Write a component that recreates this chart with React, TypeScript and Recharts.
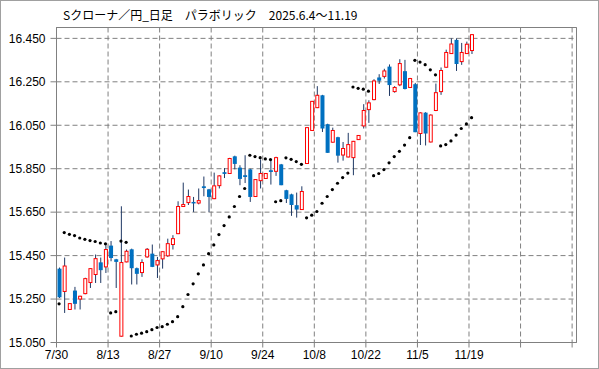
import React from 'react';
import { ComposedChart, Bar, Line, XAxis, YAxis, CartesianGrid, ReferenceArea } from 'recharts';

const title = 'Sクローナ／円_日足　パラボリック　2025.6.4～11.19';

const opens = [
  15.390, 15.285, 15.202, 15.289, 15.250, 15.275, 15.326, 15.363, 15.419, 15.398,
  15.496, 15.433, 15.079, 15.421, 15.479, 15.392, 15.372, 15.444, 15.459, 15.407,
  15.435, 15.449, 15.501, 15.551, 15.676, 15.694, 15.697, 15.692, 15.769, 15.755,
  15.712, 15.772, 15.834, 15.828, 15.907, 15.855, 15.820, 15.847, 15.722, 15.795,
  15.805, 15.843, 15.838, 15.870, 15.751, 15.732, 15.682, 15.662, 15.874, 16.026,
  16.131, 16.188, 16.055, 15.972, 15.995, 15.913, 15.904, 15.901, 15.984, 16.047,
  16.122, 16.168, 16.270, 16.275, 16.320, 16.205, 16.236, 16.299, 16.224, 16.239,
  16.012, 16.108, 15.973, 16.118, 16.205, 16.317, 16.380, 16.443, 16.343, 16.380,
  16.394,
];
const highs = [
  15.395, 15.441, 15.230, 15.306, 15.265, 15.348, 15.392, 15.455, 15.441, 15.498,
  15.517, 15.435, 15.677, 15.478, 15.482, 15.395, 15.433, 15.485, 15.501, 15.444,
  15.470, 15.528, 15.544, 15.700, 15.786, 15.754, 15.720, 15.759, 15.814, 15.757,
  15.832, 15.820, 15.853, 15.900, 15.910, 15.866, 15.912, 15.850, 15.802, 15.893,
  15.830, 15.893, 15.905, 15.872, 15.753, 15.735, 15.740, 15.769, 16.040, 16.162,
  16.230, 16.190, 16.057, 16.039, 15.997, 15.973, 16.015, 15.978, 16.005, 16.147,
  16.165, 16.262, 16.285, 16.310, 16.330, 16.230, 16.354, 16.351, 16.268, 16.245,
  16.110, 16.110, 16.100, 16.242, 16.316, 16.398, 16.450, 16.450, 16.429, 16.435,
  16.470,
];
const lows = [
  15.255, 15.186, 15.200, 15.202, 15.202, 15.272, 15.301, 15.324, 15.324, 15.370,
  15.424, 15.301, 15.077, 15.419, 15.317, 15.317, 15.352, 15.440, 15.397, 15.347,
  15.390, 15.444, 15.478, 15.549, 15.675, 15.683, 15.651, 15.686, 15.723, 15.651,
  15.710, 15.759, 15.807, 15.826, 15.847, 15.774, 15.784, 15.697, 15.720, 15.759,
  15.803, 15.777, 15.817, 15.774, 15.692, 15.633, 15.625, 15.660, 15.872, 16.024,
  16.129, 16.019, 15.923, 15.970, 15.878, 15.887, 15.902, 15.820, 15.982, 16.035,
  16.061, 16.165, 16.240, 16.265, 16.185, 16.200, 16.230, 16.215, 16.222, 16.018,
  15.959, 15.957, 15.971, 16.115, 16.190, 16.315, 16.378, 16.300, 16.328, 16.378,
  16.378,
];
const closes = [
  15.258, 15.402, 15.229, 15.228, 15.263, 15.344, 15.390, 15.436, 15.383, 15.478,
  15.439, 15.421, 15.418, 15.470, 15.392, 15.366, 15.418, 15.479, 15.398, 15.427,
  15.468, 15.505, 15.528, 15.676, 15.685, 15.722, 15.690, 15.703, 15.761, 15.720,
  15.771, 15.817, 15.826, 15.897, 15.872, 15.803, 15.812, 15.720, 15.800, 15.828,
  15.828, 15.835, 15.901, 15.774, 15.711, 15.683, 15.662, 15.745, 16.039, 16.160,
  16.188, 16.035, 15.923, 16.026, 15.910, 15.943, 15.961, 15.976, 16.003, 16.118,
  16.153, 16.254, 16.255, 16.300, 16.235, 16.224, 16.334, 16.217, 16.265, 16.018,
  16.107, 16.012, 16.097, 16.200, 16.302, 16.385, 16.424, 16.332, 16.385, 16.423,
  16.467,
];
const sarValues = [
  15.228, 15.556, 15.548, 15.542, 15.531, 15.525, 15.519, 15.515, 15.508, 15.504,
  15.186, 15.192, 15.517, 15.511, 15.080, 15.088, 15.093, 15.100, 15.109, 15.119,
  15.123, 15.134, 15.146, 15.169, 15.215, 15.271, 15.320, 15.366, 15.407, 15.459,
  15.499, 15.547, 15.588, 15.628, 15.676, 15.722, 15.759, 15.912, 15.906, 15.901,
  15.895, 15.892, 15.698, 15.703, 15.900, 15.893, 15.883, 15.870, 15.624, 15.636,
  15.653, 15.691, 15.722, 15.754, 15.783, 15.809, 15.830, 16.226, 16.220, 16.216,
  16.207, 15.818, 15.828, 15.846, 15.877, 15.906, 15.930, 15.959, 15.993, 16.349,
  16.341, 16.329, 16.305, 16.282, 15.955, 15.961, 15.978, 16.005, 16.035, 16.056,
  16.085,
];

const xTickValues = [0, 10, 20, 30, 40, 50, 60, 70, 80, 90, 100];
const xTickLabels = ['7/30', '8/13', '8/27', '9/10', '9/24', '10/8', '10/22', '11/5', '11/19', '', ''];
const yTicks = [15.05, 15.25, 15.45, 15.65, 15.85, 16.05, 16.25, 16.45];

const data = opens.map((o, i) => ({
  x: i + 0.5,
  open: o,
  high: highs[i],
  low: lows[i],
  close: closes[i],
  range: [lows[i], highs[i]],
  sar: sarValues[i],
}));

const Candle = (props: any) => {
  const { x, y, width, height, payload } = props;
  if (!payload) return null;
  const { open, close, high, low } = payload;
  const top = Math.min(y, y + height);
  const h = Math.abs(height);
  const py = (v: number) => top + ((high - v) / (high - low)) * h;
  const cx = x + width / 2;
  const up = close >= open;
  const yo = py(open);
  const yc = py(close);
  const bt = Math.min(yo, yc);
  const bb = Math.max(yo, yc);
  return (
    <g>
      <line x1={cx} x2={cx} y1={top} y2={top + h} stroke="#1F3864" strokeWidth={1} />
      {up ? (
        <rect x={cx - 1.5} y={bt} width={3} height={Math.max(bb - bt, 1)} fill="#ffffff" stroke="#FF0000" strokeWidth={1} />
      ) : (
        <rect x={cx - 2} y={bt} width={4} height={Math.max(bb - bt, 1)} fill="#0070C0" />
      )}
    </g>
  );
};

const axisFont = { fill: '#000', fontSize: 12, fontFamily: '"Liberation Sans", Arial, sans-serif' };

export default function App() {
  return (
    <div
      style={{
        position: 'absolute',
        left: 0,
        top: 0,
        width: 599,
        height: 369,
        boxSizing: 'border-box',
        border: '1px solid #a0a0a0',
        background: '#fff',
        overflow: 'hidden',
      }}
    >
      <div
        style={{
          position: 'absolute',
          left: 62,
          top: 5,
          fontFamily: '"Noto Sans CJK JP", sans-serif',
          fontSize: 12,
          color: '#000',
          whiteSpace: 'nowrap',
        }}
      >
        {title}
      </div>
      <div style={{ position: 'absolute', left: 0, top: 0 }}>
        <ComposedChart
          width={597}
          height={367}
          data={data}
          margin={{ top: 26.5, right: 21.5, left: 0.5, bottom: 0.5 }}
        >
          <CartesianGrid stroke="#808080" strokeDasharray="5 3" />
          <XAxis
            type="number"
            dataKey="x"
            domain={[0, 100.85]}
            ticks={xTickValues}
            interval={0}
            allowDataOverflow
            height={25}
            stroke="#808080"
            tickSize={5}
            tickMargin={3}
            tick={axisFont}
            tickFormatter={(v: number) => xTickLabels[xTickValues.indexOf(v)] ?? ''}
          />
          <YAxis
            type="number"
            domain={[15.05, 16.5]}
            ticks={yTicks}
            interval={0}
            allowDataOverflow
            width={55}
            stroke="#808080"
            tickSize={6}
            tickMargin={5}
            tick={axisFont}
            tickFormatter={(v: number) => v.toFixed(3)}
          />
          <ReferenceArea x1={0} x2={100.85} y1={15.05} y2={16.5} fill="none" fillOpacity={0} stroke="#808080" strokeWidth={1} ifOverflow="visible" />
          <Bar dataKey="range" barSize={4} shape={(p: any) => <Candle {...p} />} isAnimationActive={false} />
          <Line
            dataKey="sar"
            stroke="none"
            dot={{ r: 1.6, fill: '#000', stroke: 'none' }}
            activeDot={false}
            isAnimationActive={false}
          />
        </ComposedChart>
      </div>
    </div>
  );
}
